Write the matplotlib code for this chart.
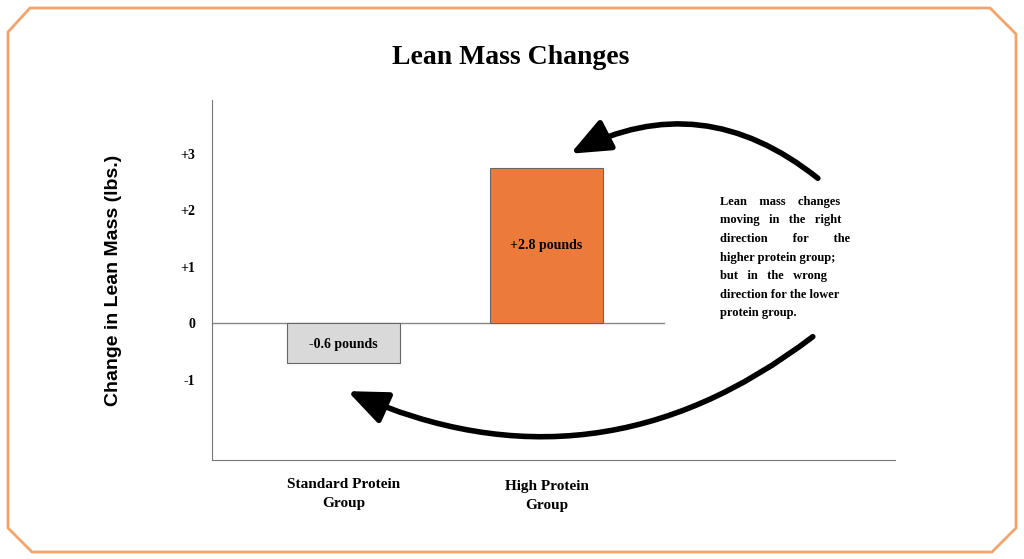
import numpy as np
import matplotlib.pyplot as plt
from matplotlib.patches import Polygon, FancyArrowPatch

groups = ['Standard Protein\nGroup', 'High Protein\nGroup']
change = [-0.7, 2.75]
labels = ['-0.6 pounds', '+2.8 pounds']
colors = ['#d9d9d9', '#ec7a3b']

W, H = 1024, 559
fig = plt.figure(figsize=(10.24, 5.59), dpi=100)
serif = 'Liberation Serif'

def px(x, y):
    return (x / W, 1 - y / H)

# orange frame with cut corners
pts = [(30, 8), (990, 8), (1016, 34), (1016, 528), (992, 552), (32, 552), (8, 528), (8, 32)]
fig.patches.append(Polygon([px(*p) for p in pts], closed=True, fill=False,
                           edgecolor='#f2a46b', lw=2, transform=fig.transFigure))

ax = fig.add_axes([212 / W, 1 - 460 / H, 683 / W, 360 / H])
ax.bar([1, 2], change, width=0.554, color=colors, edgecolor='#666666', lw=0.8, zorder=3)
ax.set_xlim(0.351, 3.718)
ax.set_ylim(-2.42, 3.95)
ax.plot([0.351, 2.58], [0, 0], color='#888888', lw=1, zorder=2)
for s in ['top', 'right']:
    ax.spines[s].set_visible(False)
ax.spines['left'].set_color('#777777')
ax.spines['bottom'].set_color('#777777')
ax.set_yticks([-1, 0, 1, 2, 3])
ax.set_yticklabels(['-1', '0', '+1', '+2', '+3'], fontfamily=serif, fontweight='bold', fontsize=10)
ax.tick_params(axis='y', length=0, pad=12)
ax.set_xticks([])
for i, (v, t) in enumerate(zip(change, labels)):
    ax.text(i + 1, v / 2 if v > 0 else -0.37, t, ha='center', va='center',
            fontfamily=serif, fontweight='bold', fontsize=10, zorder=4)
    ax.text(i + 1, -2.73 if i == 0 else -2.78, groups[i], ha='center', va='top',
            fontfamily=serif, fontweight='bold', fontsize=11, linespacing=1.6, clip_on=False)

ax.set_ylabel('Change in Lean Mass (lbs.)', fontsize=14, fontweight='bold',
              fontfamily='Liberation Sans', labelpad=42)
fig.text(*px(511, 58), 'Lean Mass Changes', ha='center', va='center',
         fontfamily=serif, fontweight='bold', fontsize=20)

note = ['Lean    mass    changes', 'moving   in   the   right', 'direction        for        the',
        'higher protein group;', 'but   in   the   wrong', 'direction for the lower', 'protein group.']
for i, line in enumerate(note):
    fig.text(*px(720, 202 + i * 18.5), line, ha='left', va='center',
             fontfamily=serif, fontweight='bold', fontsize=9)

a1 = FancyArrowPatch(px(820, 180), px(568, 155), transform=fig.transFigure,
                     connectionstyle='arc3,rad=0.33', arrowstyle='-|>,head_length=12,head_width=5',
                     lw=4, fc='black', ec='black', mutation_scale=2)
a2 = FancyArrowPatch(px(815, 335), px(345, 390), transform=fig.transFigure,
                     connectionstyle='arc3,rad=-0.3', arrowstyle='-|>,head_length=12,head_width=5',
                     lw=4, fc='black', ec='black', mutation_scale=2)
fig.patches.extend([a1, a2])

fig.savefig('out.png', dpi=100)
